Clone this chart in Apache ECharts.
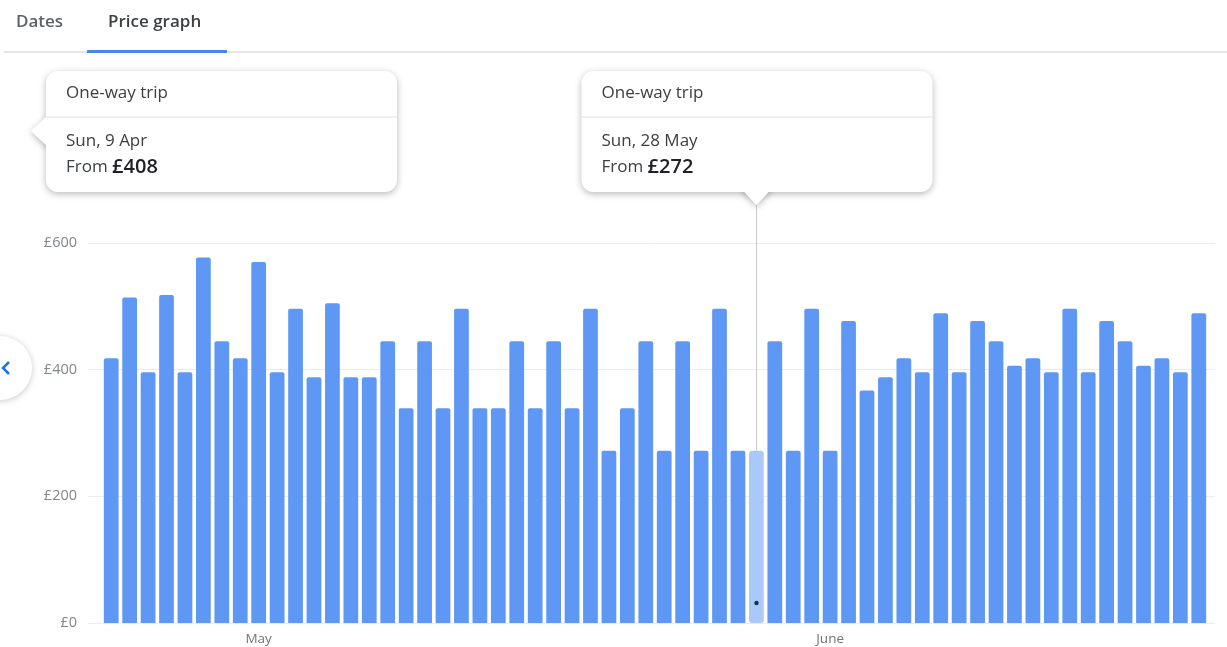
<!DOCTYPE html>
<html>
<head>
<meta charset="utf-8">
<title>Price graph</title>
<script src="https://cdn.jsdelivr.net/npm/echarts@6/dist/echarts.min.js"></script>
<style>
  html, body { margin: 0; padding: 0; background: #fff; }
  #main { width: 1227px; height: 647px; }
</style>
</head>
<body>
<div id="main"></div>
<script>
const days = [
  '23 Apr', '24 Apr', '25 Apr', '26 Apr', '27 Apr', '28 Apr', '29 Apr', '30 Apr',
  '1 May', '2 May', '3 May', '4 May', '5 May', '6 May', '7 May', '8 May', '9 May', '10 May',
  '11 May', '12 May', '13 May', '14 May', '15 May', '16 May', '17 May', '18 May', '19 May', '20 May',
  '21 May', '22 May', '23 May', '24 May', '25 May', '26 May', '27 May', '28 May', '29 May', '30 May', '31 May',
  '1 Jun', '2 Jun', '3 Jun', '4 Jun', '5 Jun', '6 Jun', '7 Jun', '8 Jun', '9 Jun', '10 Jun',
  '11 Jun', '12 Jun', '13 Jun', '14 Jun', '15 Jun', '16 Jun', '17 Jun', '18 Jun', '19 Jun', '20 Jun', '21 Jun'
]
const prices = [
  418, 514, 396, 518, 396, 577, 445, 418, 570, 396,
  496, 388, 505, 388, 388, 445, 339, 445, 339, 496,
  339, 339, 445, 339, 445, 339, 496, 272, 339, 445,
  272, 445, 272, 496, 272, 272, 445, 272, 496, 272,
  477, 367, 388, 418, 396, 489, 396, 477, 445, 406,
  418, 396, 496, 396, 477, 445, 406, 418, 396, 489
]
const monthNames = { May: 'May', Jun: 'June' }
const tabs = ['Dates', 'Price graph']
const selectedIndex = 35
const selectedDay = 'Sun, 28 May'
const pinnedDay = 'Sun, 9 Apr'
const pinnedPrice = 408

const BLUE = '#5f98f4'
const LIGHT_BLUE = '#aac8f9'
const FONT = '"Open Sans", Roboto, sans-serif'

const chart = echarts.init(document.getElementById('main'))

const option = {
  animation: false,
  textStyle: { fontFamily: FONT },
  grid: [
    { left: 88, right: 12, top: 243, bottom: 24 },
    { left: 102, right: 19, top: 243, bottom: 24 }
  ],
  xAxis: [
    { gridIndex: 0, type: 'value', show: false, min: 0, max: 1 },
    {
      gridIndex: 1,
      type: 'category',
      data: days,
      axisLine: { show: false },
      axisTick: { show: false },
      axisLabel: {
        interval: (index, value) => value.startsWith('1 '),
        formatter: value => monthNames[value.split(' ')[1]],
        color: '#70757a',
        fontSize: 13.5,
        margin: 9
      }
    }
  ],
  yAxis: [
    {
      gridIndex: 0,
      type: 'value',
      min: 0,
      max: 600,
      interval: 200,
      axisLine: { show: false },
      axisTick: { show: false },
      axisLabel: { formatter: '£{value}', color: '#80868b', fontSize: 14.5, margin: 11 },
      splitLine: { lineStyle: { color: '#ececec', width: 1 } }
    },
    { gridIndex: 1, type: 'value', min: 0, max: 600, show: false }
  ],
  series: [{
    type: 'bar',
    xAxisIndex: 1,
    yAxisIndex: 1,
    barCategoryGap: '20%',
    itemStyle: { color: BLUE, borderRadius: [2, 2, 0, 0] },
    data: prices.map((v, i) => i === selectedIndex ? { value: v, itemStyle: { color: LIGHT_BLUE, borderRadius: 3 } } : v)
  }]
}
chart.setOption(option)

function tipBox(left, top, day, price, arrow) {
  const w = 351, h = 121
  const children = []
  const boxShadow = { shadowBlur: 7, shadowColor: 'rgba(0,0,0,0.28)', shadowOffsetY: 2 }
  children.push({ type: 'polygon', shape: { points: arrow }, style: Object.assign({ fill: '#fff' }, boxShadow) })
  children.push({ type: 'rect', shape: { x: left, y: top, width: w, height: h, r: 12 }, style: Object.assign({ fill: '#fff' }, boxShadow) })
  children.push({ type: 'polygon', shape: { points: arrow }, style: { fill: '#fff' } })
  children.push({ type: 'line', shape: { x1: left, y1: top + 46, x2: left + w, y2: top + 46 }, style: { stroke: '#dedede', lineWidth: 1 } })
  children.push({ type: 'text', x: left + 20, y: top + 22, style: { text: 'One-way trip', fill: '#3c4043', font: '17px ' + FONT, verticalAlign: 'middle' } })
  children.push({ type: 'text', x: left + 20, y: top + 70, style: { text: day, fill: '#3c4043', font: '17px ' + FONT, verticalAlign: 'middle' } })
  children.push({
    type: 'text', x: left + 20, y: top + 96,
    style: {
      text: '{a|From }{b|£' + price + '}',
      verticalAlign: 'middle',
      rich: {
        a: { fill: '#3c4043', font: '17px ' + FONT },
        b: { fill: '#202124', font: '600 20px ' + FONT }
      }
    }
  })
  return children
}

const barTop = chart.convertToPixel({ xAxisIndex: 1, yAxisIndex: 1 }, [selectedIndex, prices[selectedIndex]])
const barBottom = chart.convertToPixel({ xAxisIndex: 1, yAxisIndex: 1 }, [selectedIndex, 0])
const cx = Math.round(barTop[0]) + 0.5
const box2Left = cx - 175

const graphic = [
  // tabs
  { type: 'line', shape: { x1: 4, y1: 52, x2: 1227, y2: 52 }, style: { stroke: '#dadce0', lineWidth: 1.5 } },
  { type: 'rect', shape: { x: 87, y: 50, width: 140, height: 3 }, style: { fill: '#4a86e8' } },
  { type: 'text', x: 16, y: 22, style: { text: tabs[0], fill: '#5f6368', font: '600 17px ' + FONT, verticalAlign: 'middle' } },
  { type: 'text', x: 108, y: 22, style: { text: tabs[1], fill: '#3c4043', font: '600 17px ' + FONT, verticalAlign: 'middle' } },
  // left nav button
  { type: 'circle', shape: { cx: 0, cy: 368, r: 32 }, style: { fill: '#fff', shadowBlur: 6, shadowColor: 'rgba(0,0,0,0.22)', shadowOffsetY: 1 } },
  { type: 'polyline', shape: { points: [[9, 362], [3, 368], [9, 374]] }, style: { stroke: '#1a73e8', lineWidth: 2.5, fill: null } },
  // pointer line to the selected bar
  { type: 'line', shape: { x1: cx, y1: 205, x2: cx, y2: barTop[1] }, style: { stroke: '#c9c9c9', lineWidth: 1 } },
  { type: 'circle', z: 100, shape: { cx: cx, cy: barBottom[1] - 20, r: 2.2 }, style: { fill: '#1c2b5a' } },
  {
    type: 'group',
    children: tipBox(46, 71, pinnedDay, pinnedPrice, [[46, 117], [31, 131], [46, 145], [50, 145], [50, 117]])
  },
  {
    type: 'group',
    children: tipBox(box2Left, 71, selectedDay, prices[selectedIndex], [[cx - 14, 190], [cx, 205], [cx + 14, 190], [cx + 14, 186], [cx - 14, 186]])
  }
]
chart.setOption({ graphic })
</script>
</body>
</html>
